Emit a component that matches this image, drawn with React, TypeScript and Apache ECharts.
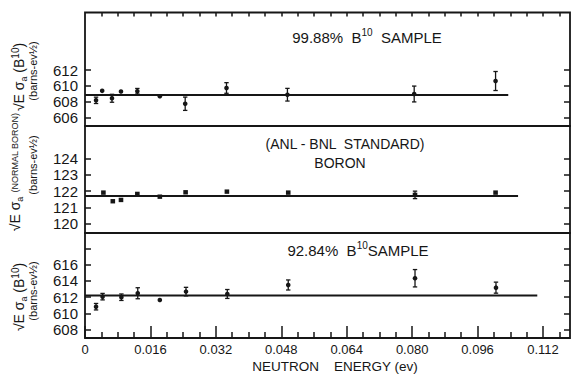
import React, { useEffect, useRef } from 'react';
import * as echarts from 'echarts';

const ink = '#161616';
const FONT = "'Liberation Sans', Arial, sans-serif";

// ---- Panel A: 99.88% B10 sample ----
const energyA = [0.0027, 0.0042, 0.0066, 0.0088, 0.0128, 0.0183, 0.0245, 0.0346, 0.0495, 0.0805, 0.1004];
const sigmaA = [608.17, 609.37, 608.43, 609.28, 609.32, 608.69, 607.74, 609.73, 608.88, 608.97, 610.61];
const errA = [0.4, 0.3, 0.5, 0.3, 0.35, 0.25, 0.84, 0.67, 0.8, 1.0, 1.2];
const fitA = 608.85;
const fitEndA = 0.1035;

// ---- Panel B: normal boron (ANL-BNL standard) ----
const energyB = [0.0045, 0.0068, 0.0088, 0.0128, 0.0183, 0.0246, 0.0347, 0.0497, 0.0807, 0.1004];
const sigmaB = [121.91, 121.38, 121.46, 121.83, 121.66, 121.93, 121.97, 121.91, 121.77, 121.91];
const errB = [0.1, 0.05, 0.05, 0.07, 0.06, 0.05, 0.06, 0.08, 0.23, 0.08];
const fitB = 121.7;
const fitEndB = 0.1059;

// ---- Panel C: 92.84% B10 sample ----
const energyC = [0.0027, 0.0043, 0.0089, 0.0129, 0.0183, 0.0247, 0.0348, 0.0497, 0.0807, 0.1005];
const sigmaC = [610.81, 612.05, 611.98, 612.47, 611.64, 612.67, 612.38, 613.49, 614.32, 613.16];
const errC = [0.4, 0.4, 0.4, 0.68, 0.3, 0.53, 0.55, 0.62, 1.07, 0.68];
const fitC = 612.2;
const fitEndC = 0.1106;

// ---- ticks ----
const xMajorTicks = [0, 0.016, 0.032, 0.048, 0.064, 0.08, 0.096, 0.112];
const xMinorTicks = [0.004, 0.008, 0.012, 0.02, 0.024, 0.028, 0.036, 0.04, 0.044, 0.052, 0.056, 0.06,
  0.068, 0.072, 0.076, 0.084, 0.088, 0.092, 0.1, 0.104, 0.108, 0.116];
const xTopTicks = [0.004, 0.008, 0.012, 0.016, 0.02, 0.024, 0.028, 0.032, 0.036, 0.04, 0.044, 0.048,
  0.052, 0.056, 0.06, 0.064, 0.068, 0.072, 0.076, 0.08, 0.084, 0.088, 0.092, 0.096, 0.1, 0.104,
  0.108, 0.112, 0.116];
const yTicksA = [606, 608, 610, 612];
const yTicksB = [120, 121, 122, 123, 124];
const yTicksC = [608, 610, 612, 614, 616, 618];
const yLabelsC = [608, 610, 612, 614, 616];

const X_MIN = 0;
const X_MAX = 0.1186;
const RANGE_A: [number, number] = [604.93, 619.26];
const RANGE_B: [number, number] = [119.43, 126.0];
const RANGE_C: [number, number] = [606.95, 619.9];

const LEFT = 85;
const RIGHT = 4;

function yAxisPair(grid: number, range: [number, number], ticks: number[], labels: number[]) {
  const base = {
    type: 'value', gridIndex: grid, min: range[0], max: range[1],
    axisLine: { show: false }, splitLine: { show: false },
  };
  return [
    {
      ...base, position: 'left',
      axisTick: { show: true, inside: true, length: 6, customValues: ticks, lineStyle: { color: ink, width: 1.5 } },
      axisLabel: { show: true, customValues: labels, margin: 7, color: ink, fontSize: 15, fontFamily: FONT },
    },
    {
      ...base, position: 'right',
      axisTick: { show: true, inside: true, length: 6, customValues: ticks, lineStyle: { color: ink, width: 1.5 } },
      axisLabel: { show: false },
    },
  ];
}

function errSeries(xi: number, yi: number, E: number[], S: number[], ER: number[], square: boolean) {
  return {
    type: 'custom', xAxisIndex: xi, yAxisIndex: yi, silent: true, z: 5,
    data: E.map((e, i) => [e, S[i], ER[i]]),
    renderItem: (params: any, api: any) => {
      const x = api.value(0), y = api.value(1), e = api.value(2);
      const p = api.coord([x, y]);
      const t = api.coord([x, y + e]);
      const b = api.coord([x, y - e]);
      const children: any[] = [];
      const st = { stroke: ink, lineWidth: 1.3 };
      if (Math.abs(b[1] - t[1]) > 5) {
        children.push({ type: 'line', shape: { x1: p[0], y1: t[1], x2: p[0], y2: b[1] }, style: st });
        children.push({ type: 'line', shape: { x1: p[0] - 2.2, y1: t[1], x2: p[0] + 2.2, y2: t[1] }, style: st });
        children.push({ type: 'line', shape: { x1: p[0] - 2.2, y1: b[1], x2: p[0] + 2.2, y2: b[1] }, style: st });
      }
      if (square) {
        children.push({ type: 'rect', shape: { x: p[0] - 2.3, y: p[1] - 2.2, width: 4.6, height: 4.4 }, style: { fill: ink } });
      } else {
        children.push({ type: 'circle', shape: { cx: p[0], cy: p[1], r: 2.3 }, style: { fill: ink } });
      }
      return { type: 'group', children };
    },
  };
}

function fitSeries(xi: number, yi: number, level: number, end: number) {
  return {
    type: 'line', xAxisIndex: xi, yAxisIndex: yi, silent: true, z: 3,
    data: [[X_MIN, level], [end, level]],
    symbol: 'none', lineStyle: { color: ink, width: 2 },
  };
}

const rich = {
  sup: { fontSize: 10, verticalAlign: 'top', fontFamily: FONT, fill: ink },
  sub: { fontSize: 9, verticalAlign: 'bottom', fontFamily: FONT, fill: ink },
  sm: { fontSize: 9, fontFamily: FONT, fill: ink },
};

function label(x: number, y: number, text: string, size: number, rotate = false) {
  return {
    type: 'text', x, y, rotation: rotate ? Math.PI / 2 : 0, silent: true,
    style: {
      text, rich, fill: ink, fontSize: size, fontFamily: FONT, lineHeight: size + 4,
      align: 'center', verticalAlign: 'middle',
    },
  };
}

function buildOption() {
  const tickStyle = { color: ink, width: 1.5 };
  const xBase = { type: 'value', min: X_MIN, max: X_MAX, splitLine: { show: false }, axisLine: { show: false } };
  return {
    animation: false,
    backgroundColor: '#ffffff',
    grid: [
      { left: LEFT, right: RIGHT, top: 12.5, height: 113.5, show: true, borderColor: ink, borderWidth: 1.8 },
      { left: LEFT, right: RIGHT, top: 126, height: 107, show: true, borderColor: ink, borderWidth: 1.8 },
      { left: LEFT, right: RIGHT, top: 233, height: 105, show: true, borderColor: ink, borderWidth: 1.8 },
      { left: LEFT, right: RIGHT, top: 233, height: 105, show: false },
    ],
    xAxis: [
      {
        ...xBase, gridIndex: 0, position: 'top',
        axisTick: { show: true, inside: true, length: 4, customValues: xTopTicks, lineStyle: tickStyle },
        axisLabel: { show: false },
      },
      { ...xBase, gridIndex: 1, show: false },
      {
        ...xBase, gridIndex: 2, position: 'bottom',
        axisTick: { show: true, inside: true, length: 6, customValues: xMinorTicks, lineStyle: tickStyle },
        axisLabel: { show: false },
      },
      {
        ...xBase, gridIndex: 3, position: 'bottom',
        axisTick: { show: true, inside: true, length: 12, customValues: xMajorTicks, lineStyle: tickStyle },
        axisLabel: {
          show: true, customValues: xMajorTicks, margin: 4, color: ink, fontSize: 13, fontFamily: FONT,
          lineHeight: 14,
          formatter: (v: number) => (v === 0 ? '0' : v.toFixed(3)),
        },
      },
    ],
    yAxis: [
      ...yAxisPair(0, RANGE_A, yTicksA, yTicksA),
      ...yAxisPair(1, RANGE_B, yTicksB, yTicksB),
      ...yAxisPair(2, RANGE_C, yTicksC, yLabelsC),
      { type: 'value', gridIndex: 3, show: false, min: 0, max: 1 },
    ],
    series: [
      fitSeries(0, 0, fitA, fitEndA),
      errSeries(0, 0, energyA, sigmaA, errA, false),
      fitSeries(1, 2, fitB, fitEndB),
      errSeries(1, 2, energyB, sigmaB, errB, true),
      fitSeries(2, 4, fitC, fitEndC),
      errSeries(2, 4, energyC, sigmaC, errC, false),
    ],
    graphic: [
      label(367, 37, '99.88%  B{sup|10}  SAMPLE', 15),
      label(345, 144, '(ANL - BNL  STANDARD)', 14),
      label(340, 163, 'BORON', 14),
      label(358, 250, '92.84%  B{sup|10}SAMPLE', 15),
      {
        type: 'text', x: 335, y: 366, silent: true,
        style: {
          text: 'NEUTRON    ENERGY (ev)', fill: ink, fontSize: 13.5, fontFamily: FONT,
          align: 'center', verticalAlign: 'middle',
        },
      },
      label(19, 77, '√E σ{sub|a} (B{sup|10})', 14, true),
      label(33, 71, '(barns-ev½)', 11, true),
      label(15, 172, '√E σ{sub|a} {sm|(NORMAL BORON)}', 14, true),
      label(33, 165, '(barns-ev½)', 11, true),
      label(19, 297, '√E σ{sub|a} (B{sup|10})', 14, true),
      label(33, 291, '(barns-ev½)', 11, true),
    ],
  };
}

export default function App() {
  const ref = useRef<HTMLDivElement>(null);
  useEffect(() => {
    if (!ref.current) return;
    const chart = echarts.init(ref.current, null, { renderer: 'svg' });
    chart.setOption(buildOption() as any);
    return () => chart.dispose();
  }, []);
  return (
    <div
      ref={ref}
      style={{ position: 'absolute', left: 0, top: 0, width: 574, height: 375, background: '#fff' }}
    />
  );
}
